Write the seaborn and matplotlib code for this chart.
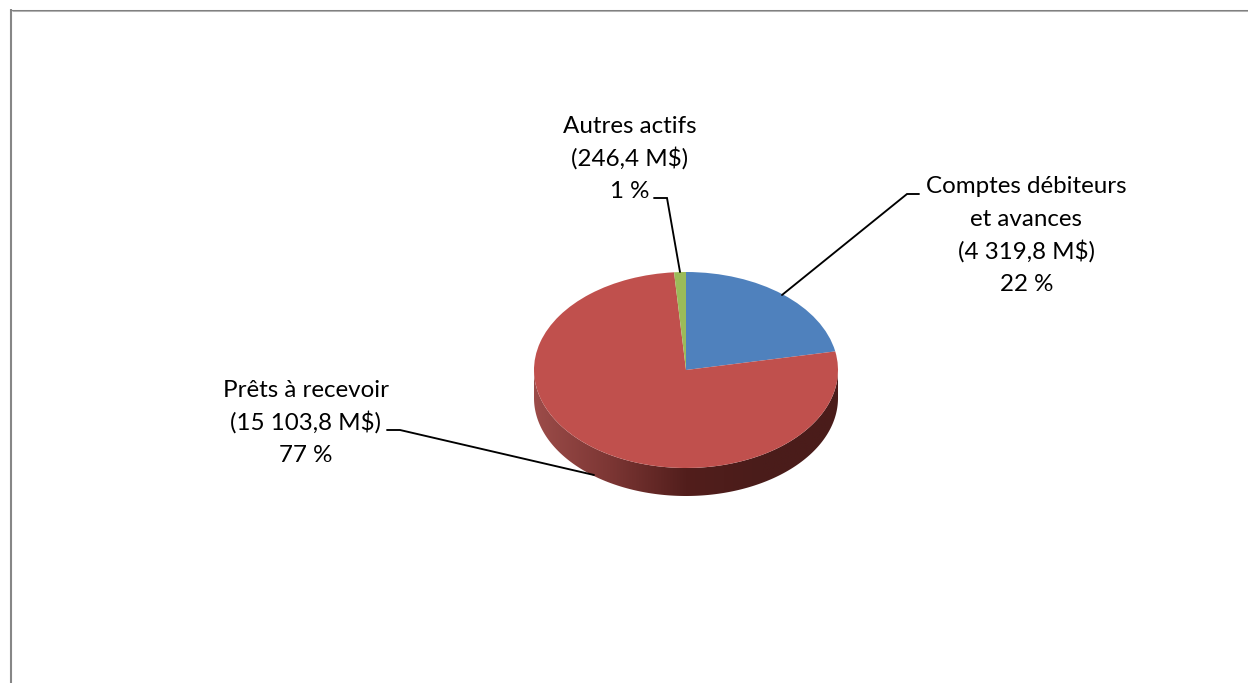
import numpy as np
import matplotlib
matplotlib.use("Agg")
import matplotlib.pyplot as plt
from matplotlib.patches import Polygon
import seaborn as sns

# Data
categories = [["Comptes débiteurs", "et avances"], ["Prêts à recevoir"], ["Autres actifs"]]
amounts = [4319.8, 15103.8, 246.4]
amount_labels = ["4 319,8 M$", "15 103,8 M$", "246,4 M$"]
percent_labels = ["22 %", "77 %", "1 %"]
slice_colors = ["#4F81BD", "#C0504D", "#9BBB59"]
side_colors = ["#9C4C49", "#7C3634", "#521E1C", "#4A1C1A", "#4A1C1A"]

W, H = 1248, 683
CX, CY, RX, RY, DEPTH = 686, 370, 152, 98, 28
LINE_STEP = 32.6

sns.set_theme(style="white")
plt.rcParams["font.family"] = ["Lato", "DejaVu Sans"]

fig = plt.figure(figsize=(W / 100, H / 100), dpi=100, facecolor="white")

# Pie axes: unit circle squashed into an ellipse in pixel space
ax = fig.add_axes([0, 0, 1, 1])
ax.axis("off")

# Extruded side with a horizontal gradient
theta = np.linspace(np.pi, 2 * np.pi, 240)
dz = DEPTH / RY
top_edge = np.column_stack([np.cos(theta), np.sin(theta)])
bottom_edge = np.column_stack([np.cos(theta), np.sin(theta) - dz])[::-1]
side_path = np.vstack([top_edge, bottom_edge])
cmap = sns.blend_palette(side_colors, as_cmap=True)
grad = np.linspace(0, 1, 256).reshape(1, -1)
im = ax.imshow(grad, cmap=cmap, extent=(-1, 1, -1 - dz, 1), aspect="auto", zorder=0)
clip = Polygon(side_path, closed=True, transform=ax.transData, fc="none", ec="none")
ax.add_patch(clip)
im.set_clip_path(clip)

ax.pie(amounts, colors=slice_colors, startangle=90, counterclock=False, radius=1,
       wedgeprops={"linewidth": 0})
ax.set_aspect("auto")
ax.set_xlim(-CX / RX, (W - CX) / RX)
ax.set_ylim((CY - H) / RY, CY / RY)

# Overlay in pixel coordinates for the frame, labels and leader lines
ov = fig.add_axes([0, 0, 1, 1], facecolor="none")
ov.axis("off")
ov.set_xlim(0, W)
ov.set_ylim(H, 0)

# Chart frame (top and left only are visible)
ov.plot([11, 11], [H, 9], color="#868686", lw=1.5, solid_capstyle="butt", zorder=3)
ov.plot([10, W], [9.5, 9.5], color="#808080", lw=0.75, solid_capstyle="butt", zorder=3)
ov.plot([12, W], [10.5, 10.5], color="#B4B4B4", lw=0.75, solid_capstyle="butt", zorder=2)

# Leader lines
leaders = [
    ([782, 907, 919], [295, 194, 194]),
    ([387, 400, 594], [430, 430, 475]),
    ([654, 667, 680], [198, 198, 272]),
]
for xs, ys in leaders:
    ov.plot(xs, ys, color="black", lw=1.35, solid_joinstyle="miter", zorder=4)

# Labels: horizontal centre and first baseline in pixels
label_pos = [(1026.5, 193), (306, 397), (630, 133)]
for cat, amt, pct, (x, y0) in zip(categories, amount_labels, percent_labels, label_pos):
    lines = [*cat, f"({amt})", pct]
    for i, line in enumerate(lines):
        ov.text(x, y0 + i * LINE_STEP, line, ha="center", va="baseline",
                fontsize=17.4, color="black", zorder=5)

fig.savefig("out.png", dpi=100, facecolor="white")
